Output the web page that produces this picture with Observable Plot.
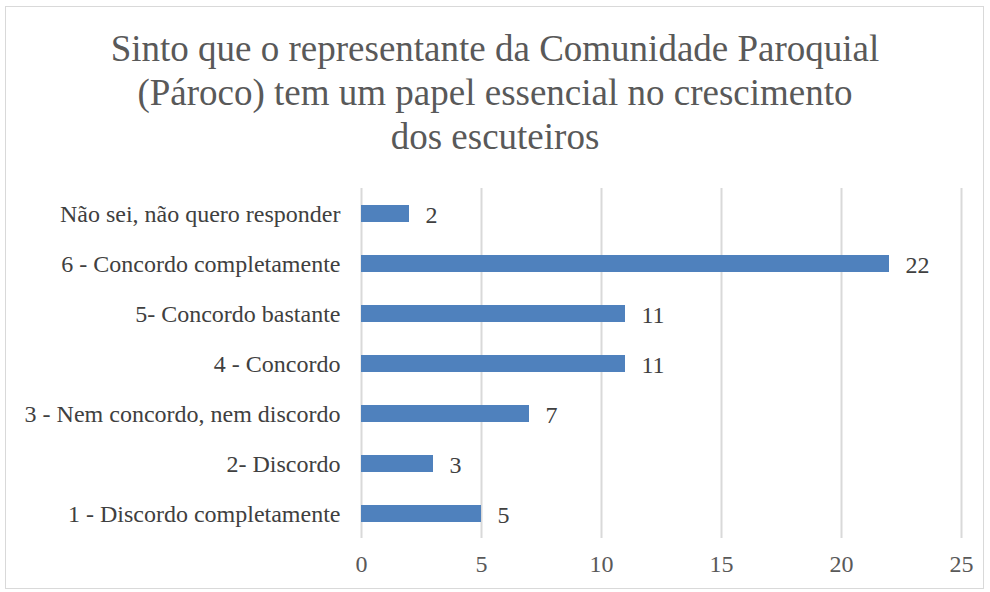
<!DOCTYPE html>
<html>
<head>
<meta charset="utf-8">
<script src="https://cdn.jsdelivr.net/npm/d3@7"></script>
<script src="https://cdn.jsdelivr.net/npm/@observablehq/plot@0.6"></script>
<style>
  html, body { margin: 0; padding: 0; background: #fff; }
  #frame { position: absolute; left: 5px; top: 6px; width: 979px; height: 583px; border: 1px solid #d9d9d9; box-sizing: border-box; }
  #title { position: absolute; left: 0; top: 27px; width: 990px; text-align: center; font-family: "Liberation Serif", serif; font-size: 37px; line-height: 44px; color: #595959; }
  #chart { position: absolute; left: 0; top: 170px; }
</style>
</head>
<body>
<div id="frame"></div>
<div id="title">Sinto que o representante da Comunidade Paroquial<br>(Pároco) tem um papel essencial no crescimento<br>dos escuteiros</div>
<div id="chart"></div>
<script>
const categories = [
  "Não sei, não quero responder",
  "6 - Concordo completamente",
  "5- Concordo bastante",
  "4 - Concordo",
  "3 - Nem concordo, nem discordo",
  "2- Discordo",
  "1 - Discordo completamente"
];
const values = [2, 22, 11, 11, 7, 3, 5];
const xTicks = [0, 5, 10, 15, 20, 25];

const data = categories.map((c, i) => ({category: c, value: values[i]}));

const chart = Plot.plot({
  width: 990,
  height: 420,
  marginLeft: 361,
  marginRight: 29,
  marginTop: 18,
  marginBottom: 52,
  style: {fontFamily: "'Liberation Serif', serif", fontSize: "24px", color: "#595959", background: "transparent"},
  x: {domain: [0, 25], ticks: xTicks, tickSize: 0, tickPadding: 16, label: null},
  y: {domain: categories, paddingInner: 0.66, paddingOuter: 0.33, tickSize: 0, tickPadding: 21, label: null},
  marks: [
    Plot.ruleX(xTicks, {stroke: "#d9d9d9", strokeWidth: 2}),
    Plot.barX(data, {x: "value", y: "category", fill: "#4f81bd"}),
    Plot.text(data, {x: "value", y: "category", text: d => String(d.value), textAnchor: "start", dx: 16, dy: 1, fill: "#404040", fontSize: 24})
  ]
});
chart.querySelectorAll("g[aria-label='y-axis tick label'] text").forEach(t => t.setAttribute("fill", "#404040"));
document.getElementById("chart").appendChild(chart);
</script>
</body>
</html>
